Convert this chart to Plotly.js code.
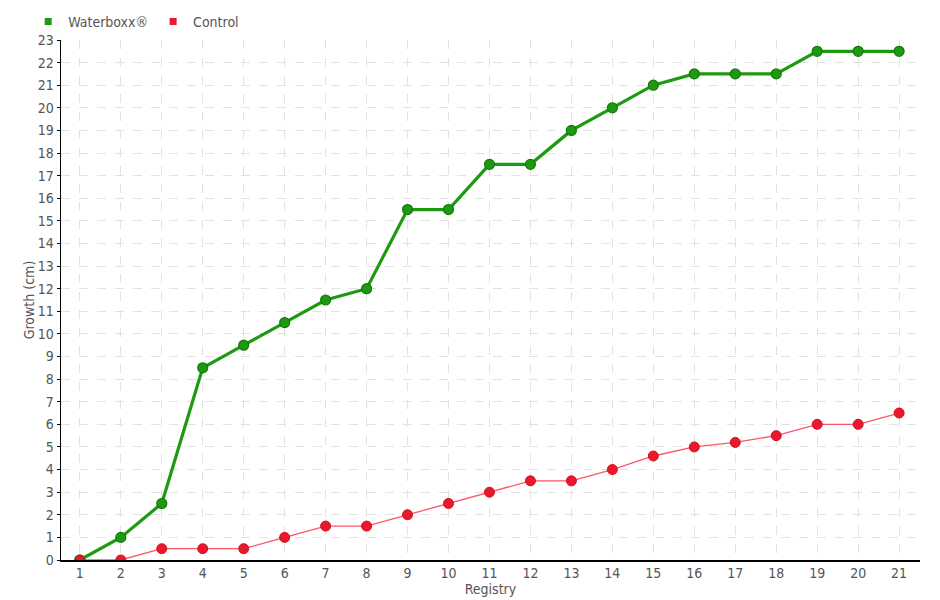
<!DOCTYPE html>
<html>
<head>
<meta charset="utf-8">
<script src="https://cdn.plot.ly/plotly-3.0.1.min.js"></script>
<style>html,body{margin:0;padding:0;background:#fff;}#chart{width:940px;height:600px;}</style>
</head>
<body>
<div id="chart"></div>
<script>
const registry = [1,2,3,4,5,6,7,8,9,10,11,12,13,14,15,16,17,18,19,20,21];
const waterboxx = [0,1,2.5,8.5,9.5,10.5,11.5,12,15.5,15.5,17.5,17.5,19,20,21,21.5,21.5,21.5,22.5,22.5,22.5];
const control = [0,0,0.5,0.5,0.5,1,1.5,1.5,2,2.5,3,3.5,3.5,4,4.6,5,5.2,5.5,6,6,6.5];
const yTicks = [0,1,2,3,4,5,6,7,8,9,10,11,12,13,14,15,16,17,18,19,20,21,22,23];

const FONT = '"DejaVu Sans Condensed", "Liberation Sans Narrow", "Roboto", sans-serif';
const traces = [
  {x: registry, y: control, mode: 'lines+markers', name: 'Control', showlegend: false,
   line: {color: '#ff5566', width: 1.3},
   marker: {color: '#e8192c', size: 10, line: {color: '#d01020', width: 1}}},
  {x: registry, y: waterboxx, mode: 'lines+markers', name: 'Waterboxx®', showlegend: false,
   line: {color: '#1e9a12', width: 3.2},
   marker: {color: '#1e9a12', size: 10, line: {color: '#137a0a', width: 1.2}}},
  {x: [null], y: [null], mode: 'markers', name: 'Waterboxx®',
   marker: {color: '#1e9a12', symbol: 'square', size: 7}},
  {x: [null], y: [null], mode: 'markers', name: 'Control',
   marker: {color: '#e8192c', symbol: 'square', size: 7}}
];
traces.push({x: registry.slice(0,1), y: control.slice(0,1), mode: 'markers', showlegend: false, hoverinfo: 'skip',
  marker: {color: '#e8192c', size: 9, line: {color: '#d01020', width: 1}}});

const layout = {
  width: 940, height: 600,
  margin: {l: 61, r: 20, t: 40, b: 40},
  paper_bgcolor: '#fff', plot_bgcolor: '#fff',
  font: {family: FONT, color: '#555', size: 14},
  showlegend: true,
  legend: {orientation: 'h', xref: 'container', yref: 'container', x: 0.03, y: 0.99, xanchor: 'left', yanchor: 'top',
    font: {size: 14, color: '#555'}, itemwidth: 30, tracegroupgap: 0, bgcolor: 'rgba(0,0,0,0)'},
  xaxis: {
    range: [0.54, 21.51], tickmode: 'array', tickvals: registry, ticktext: registry.map(String),
    showgrid: true, gridcolor: '#e2e2e2', griddash: 'dash', gridwidth: 1,
    showline: true, linecolor: '#000', linewidth: 1.5, zeroline: false,
    ticks: '', ticklabelstandoff: 0,
    tickfont: {size: 14, color: '#555'},
    title: {text: 'Registry', font: {size: 14, color: '#555'}, standoff: 0}
  },
  yaxis: {
    range: [0, 23], tickmode: 'array', tickvals: yTicks, ticktext: yTicks.map(String),
    showgrid: true, gridcolor: '#e2e2e2', griddash: 'dash', gridwidth: 1,
    showline: true, linecolor: '#000', linewidth: 1.5, zeroline: false,
    ticks: 'outside', ticklen: 3, tickcolor: '#000', ticklabelstandoff: 0,
    tickfont: {size: 14, color: '#555'},
    title: {text: 'Growth (cm)', font: {size: 14, color: '#555'}, standoff: 0}
  }
};
Plotly.newPlot('chart', traces, layout, {displayModeBar: false, staticPlot: true});
</script>
</body>
</html>
